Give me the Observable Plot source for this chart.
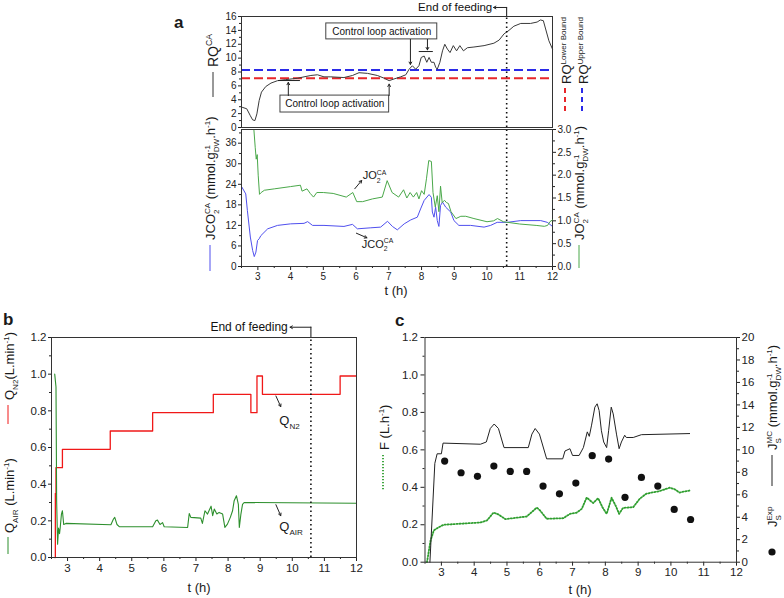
<!DOCTYPE html>
<html><head><meta charset="utf-8">
<script src="https://cdn.jsdelivr.net/npm/d3@7"></script>
<script src="https://cdn.jsdelivr.net/npm/@observablehq/plot@0.6"></script>
<style>
html,body{margin:0;padding:0;background:#fff;}
#root{position:relative;width:784px;height:598px;overflow:hidden;}
</style></head><body><div id="root"></div>
<script>
// ---------------- DATA ----------------
// Panel a (top): RQ^CA [t(h), RQ]
const rqCA = [[2.53,2.9],[2.66,2.7],[2.77,1.7],[2.84,1.1],[2.91,1.0],[2.97,1.96],[3.04,3.9],[3.11,5.1],[3.24,5.9],[3.4,6.4],[3.6,6.75],[3.85,6.9],[4.21,7.1],[4.41,7.3],[4.62,7.5],[4.82,7.6],[5.02,7.3],[5.23,7.3],[5.63,7.2],[5.89,7.5],[6.09,7.9],[6.35,7.8],[6.65,7.5],[6.86,7.1],[7.01,6.75],[7.16,7.0],[7.36,7.3],[7.52,7.6],[7.62,8.4],[7.72,8.9],[7.82,8.4],[7.92,8.9],[7.99,10.1],[8.08,10.3],[8.16,9.4],[8.23,10.1],[8.3,9.4],[8.38,9.4],[8.43,8.7],[8.48,8.4],[8.56,9.4],[8.64,11.05],[8.71,12.0],[8.79,11.3],[8.87,10.8],[8.97,11.8],[9.07,11.05],[9.17,11.8],[9.28,11.05],[9.4,11.5],[9.6,11.6],[9.91,11.8],[10.21,12.15],[10.37,12.6],[10.52,13.5],[10.67,14.0],[10.82,14.6],[11.03,15.0],[11.33,15.0],[11.53,15.2],[11.63,15.5],[11.72,15.4],[11.79,14.2],[11.89,12.5],[12.0,11.3]];
const rqBounds = [{name:"Lower Bound", v:7.1, color:"#e8262a"},{name:"Upper Bound", v:8.3, color:"#2a2ae8"}];
// Panel a (bottom): JCO2^CA (left axis) and JO2^CA (right axis)
const jco2 = [[2.51,23.2],[2.63,21.2],[2.68,16.3],[2.77,8.6],[2.84,4.7],[2.89,2.9],[2.94,4.2],[2.99,7.6],[3.04,8.1],[3.09,9.0],[3.3,11.0],[3.6,12.0],[4.0,12.45],[4.41,12.6],[4.52,13.1],[4.67,12.0],[5.02,12.0],[5.63,11.7],[5.89,12.3],[6.04,11.0],[6.45,11.3],[6.75,11.5],[6.96,13.2],[7.11,11.7],[7.26,10.7],[7.47,12.45],[7.67,13.6],[7.87,14.4],[7.97,16.8],[8.08,19.3],[8.23,21.0],[8.3,20.2],[8.33,15.9],[8.38,14.4],[8.43,17.3],[8.48,13.4],[8.53,11.7],[8.58,17.8],[8.64,18.8],[8.74,17.3],[8.89,15.9],[8.99,13.4],[9.14,12.0],[9.5,12.0],[9.91,11.5],[10.11,12.0],[10.31,12.9],[10.62,12.9],[11.03,13.4],[11.64,13.4],[11.84,12.9],[12.0,11.7]];
const jo2 = [[2.88,2.98],[2.92,2.6],[2.95,2.35],[2.98,2.45],[3.01,2.0],[3.05,1.58],[3.1,1.62],[3.2,1.67],[3.5,1.7],[4.0,1.75],[4.3,1.78],[4.35,1.65],[4.5,1.70],[4.6,1.6],[4.7,1.52],[4.8,1.62],[5.0,1.62],[5.3,1.6],[5.7,1.52],[5.9,1.62],[6.02,1.42],[6.2,1.42],[6.5,1.48],[6.8,1.52],[6.95,1.88],[7.1,1.62],[7.3,1.52],[7.45,1.68],[7.55,1.5],[7.65,1.62],[7.75,1.52],[7.85,1.62],[7.92,1.48],[8.0,1.66],[8.08,1.58],[8.15,1.92],[8.22,2.32],[8.3,2.3],[8.35,1.62],[8.42,1.3],[8.48,1.55],[8.53,1.2],[8.58,1.76],[8.63,1.4],[8.7,1.45],[8.76,1.4],[8.82,1.38],[8.9,1.2],[9.05,1.05],[9.2,1.1],[9.35,1.1],[9.6,1.05],[10.0,0.98],[10.2,1.0],[10.32,1.05],[10.5,0.98],[11.0,0.93],[11.5,0.9],[11.75,0.88],[11.85,0.9],[11.92,0.98],[12.0,1.02]];
// Panel b: Q_N2 (step) and Q_AIR
const qN2 = [[2.6,0],[2.62,0.35],[2.64,0.49],[2.84,0.59],[4.33,0.69],[5.65,0.79],[7.54,0.89],[8.71,0.79],[8.90,0.99],[9.07,0.89],[11.49,0.99],[12.0,0.99]];
const qAIR = [[2.6,1.0],[2.64,0.93],[2.66,0.31],[2.69,0.073],[2.72,0.16],[2.75,0.13],[2.77,0.16],[2.81,0.237],[2.84,0.255],[2.88,0.18],[2.95,0.186],[4.35,0.179],[4.43,0.21],[4.47,0.219],[4.54,0.18],[4.61,0.168],[5.65,0.168],[5.75,0.2],[5.80,0.204],[5.88,0.18],[5.96,0.19],[6.01,0.168],[6.74,0.164],[6.79,0.24],[6.84,0.219],[7.15,0.215],[7.2,0.186],[7.28,0.255],[7.36,0.237],[7.47,0.28],[7.52,0.228],[7.57,0.264],[7.65,0.237],[7.72,0.246],[7.83,0.237],[7.9,0.164],[7.98,0.182],[8.07,0.219],[8.14,0.255],[8.19,0.31],[8.26,0.337],[8.32,0.29],[8.35,0.164],[8.4,0.237],[8.45,0.29],[8.5,0.30],[12.0,0.296]];
// Panel c: feed F (left), Js^MC (right), Js^Exp points (right)
const feedF = [[2.56,0],[2.67,0.116],[2.77,0.17],[2.92,0.187],[3.07,0.2],[4.19,0.212],[4.39,0.223],[4.59,0.265],[4.74,0.255],[4.95,0.23],[5.6,0.244],[5.81,0.276],[5.91,0.292],[6.01,0.276],[6.21,0.232],[6.72,0.235],[6.92,0.258],[7.12,0.264],[7.28,0.285],[7.43,0.345],[7.63,0.316],[7.78,0.342],[7.91,0.294],[8.04,0.258],[8.19,0.344],[8.32,0.3],[8.42,0.258],[8.54,0.29],[8.85,0.294],[9.05,0.339],[9.25,0.366],[9.66,0.38],[9.96,0.398],[10.11,0.39],[10.26,0.372],[10.57,0.383]];
const jsMC = [[2.65,0],[2.80,8.8],[2.87,9.65],[3.0,9.65],[3.05,10.6],[4.19,10.5],[4.37,10.7],[4.49,11.9],[4.61,12.3],[4.74,11.9],[4.91,10.2],[5.65,10.2],[5.76,11.4],[5.86,11.9],[5.99,11.4],[6.21,9.2],[6.70,9.2],[6.77,9.9],[6.92,10.1],[7.0,9.5],[7.2,9.5],[7.33,10.2],[7.45,11.6],[7.51,11.2],[7.58,12.2],[7.68,13.8],[7.75,14.1],[7.81,13.5],[7.88,11.7],[7.95,10.7],[8.04,10.2],[8.10,11.7],[8.18,13.8],[8.24,13.2],[8.34,11.4],[8.42,10.1],[8.49,10.7],[8.59,11.3],[8.64,11.1],[8.85,11.1],[9.10,11.35],[10.57,11.45]];
const jsExpT = [3.1,3.6,4.1,4.6,5.1,5.6,6.1,6.6,7.1,7.6,8.1,8.6,9.1,9.6,10.1,10.6];
const jsExpV = [9.0,7.96,7.64,8.56,8.08,8.08,6.78,6.09,7.04,9.48,9.18,5.77,7.55,6.78,4.70,3.80];
const endOfFeeding = 10.6;
// Tick values
const xTicks = [3,4,5,6,7,8,9,10,11,12];
const xMinor = [2.5,3.5,4.5,5.5,6.5,7.5,8.5,9.5,10.5,11.5];
const rqTicks = [0,2,4,6,8,10,12,14,16];
const rqMinor = [1,3,5,7,9,11,13,15];
const jcoTicks = [0,6,12,18,24,30,36];
const jcoMinor = [3,9,15,21,27,33,39];
const joTicks = [0,0.5,1.0,1.5,2.0,2.5,3.0];
const joMinor = [0.25,0.75,1.25,1.75,2.25,2.75];
const qTicks = [0,0.2,0.4,0.6,0.8,1.0,1.2];
const qMinor = [0.1,0.3,0.5,0.7,0.9,1.1];
const jsTicks = [0,2,4,6,8,10,12,14,16,18,20];
const jsMinor = [1,3,5,7,9,11,13,15,17,19];
// Annotations (data units)
const boxesA = [{x1:5.09,x2:8.48,y1:12.7,y2:15.0,label:"Control loop activation"},{x1:3.69,x2:7.01,y1:2.16,y2:4.6,label:"Control loop activation"}];
const arrowsA = [{x1:3.93,y1:4.6,x2:3.93,y2:6.5,dash:"none"},{x1:7.01,y1:4.6,x2:7.01,y2:6.25,dash:"2,2"},{x1:7.66,y1:12.7,x2:7.66,y2:9.1,dash:"2,2"},{x1:8.18,y1:12.7,x2:8.18,y2:11.2,dash:"none"},{x1:10.6,y1:17.3,x2:10.2,y2:17.3,dash:"none"}];
const bracketsA = [{x1:3.63,x2:4.3,y:6.77},{x1:7.93,x2:8.36,y:10.95}];
const arrowsA2 = [{x1:5.96,y1:22.7,x2:6.17,y2:25.1},{x1:6.01,y1:9.72,x2:6.33,y2:8.38}];
const labelsA2 = [{t:6.22,v:25.3,label:"JO_{2}^{CA}"},{t:6.19,v:5.26,label:"JCO_{2}^{CA}"}];
const arrowsB = [{x1:9.49,y1:0.881,x2:9.64,y2:0.823},{x1:9.49,y1:0.288,x2:9.64,y2:0.228},{x1:10.58,y1:1.256,x2:9.93,y2:1.256}];
const labelsB = [{t:9.61,v:0.719,label:"Q_{N2}"},{t:9.61,v:0.140,label:"Q_{AIR}"}];

// ---------------- HELPERS ----------------
const W=784, H=598, FONT='"Liberation Sans", Arial, Helvetica, sans-serif';
const root = document.getElementById("root");
const P = a => ({t:a[0], v:a[1]});
function opts(l,r,t,b,fs){return {width:W,height:H,marginLeft:l,marginRight:W-r,marginTop:t,marginBottom:H-b,
  style:{background:"transparent",fontFamily:FONT,fontSize:fs,color:"#222",overflow:"visible"}};}
function add(p){p.style.position="absolute";p.style.left="0px";p.style.top="0px";root.appendChild(p);return p;}
function axY(ticks, minor, o={}){return [Plot.axisY(ticks,{tickSize:4,tickPadding:2,label:null,...o}),
  Plot.axisY(minor,{tickSize:2,fill:"none",label:null,anchor:o.anchor})];}
function axX(o={}){return [Plot.axisX(xTicks,{tickSize:4,tickPadding:2,label:null,...o}),
  Plot.axisX(xMinor,{tickSize:2,fill:"none",label:null})];}
const lineOf = (arr, o) => Plot.line(arr.map(P), {x:"t", y:"v", ...o});

// ---------------- PANEL a (top) ----------------
add(Plot.plot({...opts(241,552,16,127,"10px"),
  x:{domain:[2.5,12],axis:null}, y:{domain:[0,16],axis:null},
  marks:[
    Plot.ruleY(rqBounds,{y:"v",stroke:"color",strokeWidth:2,strokeDasharray:"9,4"}),
    lineOf(rqCA,{stroke:"#3a3a3a",strokeWidth:1}),
    Plot.ruleX([{t:endOfFeeding,a:0,b:16}],{x:"t",y1:"a",y2:"b",stroke:"#111",strokeWidth:1.6,strokeDasharray:"1.5,3"}),
    Plot.ruleX([{t:endOfFeeding,a:16,b:17.3}],{x:"t",y1:"a",y2:"b",stroke:"#111",strokeWidth:1}),
    Plot.rect(boxesA,{x1:"x1",x2:"x2",y1:"y1",y2:"y2",fill:"white",stroke:"#444",strokeWidth:1}),
    Plot.text(boxesA,{x:d=>(d.x1+d.x2)/2,y:d=>(d.y1+d.y2)/2,text:"label",fontSize:10,fill:"#111"}),
    Plot.arrow(arrowsA,{x1:"x1",y1:"y1",x2:"x2",y2:"y2",strokeDasharray:"dash",headLength:4,stroke:"#222",strokeWidth:1}),
    Plot.ruleY(bracketsA,{y:"y",x1:"x1",x2:"x2",stroke:"#222",strokeWidth:1}),
    Plot.text([{t:10.16,v:17.3,s:"End of feeding"}],{x:"t",y:"v",text:"s",textAnchor:"end",fontSize:11.5,fill:"#111"}),
    ...axY(rqTicks, rqMinor, {tickSize:3}),
    Plot.frame({stroke:"#333"})
  ]}));

// ---------------- PANEL a (bottom) ----------------
const pA2 = add(Plot.plot({...opts(241,552,129,266,"10px"),
  x:{domain:[2.5,12],axis:null}, y:{domain:[0,40],axis:null},
  marks:[
    lineOf(jco2,{stroke:"#4f4fee",strokeWidth:1}),
    Plot.ruleX([{t:endOfFeeding,a:0,b:40}],{x:"t",y1:"a",y2:"b",stroke:"#111",strokeWidth:1.6,strokeDasharray:"1.5,3"}),
    Plot.arrow(arrowsA2,{x1:"x1",y1:"y1",x2:"x2",y2:"y2",headLength:4,stroke:"#222",strokeWidth:1}),
    ...axY(jcoTicks, jcoMinor, {tickSize:3}),
    ...axX({tickSize:4}),
    Plot.frame({stroke:"#333"})
  ]}));
add(Plot.plot({...opts(241,552,129,266,"10px"),
  x:{domain:[2.5,12],axis:null}, y:{domain:[0,3],axis:null},
  marks:[
    lineOf(jo2,{stroke:"#4aa84a",strokeWidth:1}),
    ...axY(joTicks, joMinor, {anchor:"right",tickSize:3,tickPadding:2,tickFormat:d=>d.toFixed(1)})
  ]}));

// ---------------- PANEL b ----------------
const pB = add(Plot.plot({...opts(51,356,337,557,"11.5px"),
  x:{domain:[2.5,12],axis:null}, y:{domain:[0,1.2],axis:null},
  marks:[
    lineOf(qN2,{stroke:"#f01818",strokeWidth:1.3,curve:"step-after"}),
    lineOf(qAIR,{stroke:"#2d8f2d",strokeWidth:1.1}),
    Plot.ruleX([{t:10.58,a:0,b:1.2}],{x:"t",y1:"a",y2:"b",stroke:"#111",strokeWidth:1.6,strokeDasharray:"1.5,3"}),
    Plot.ruleX([{t:10.58,a:1.2,b:1.256}],{x:"t",y1:"a",y2:"b",stroke:"#111",strokeWidth:1}),
    Plot.arrow(arrowsB,{x1:"x1",y1:"y1",x2:"x2",y2:"y2",headLength:4,stroke:"#222",strokeWidth:1}),
    Plot.text([{t:9.86,v:1.256,s:"End of feeding"}],{x:"t",y:"v",text:"s",textAnchor:"end",fontSize:12,fill:"#111"}),
    ...axY(qTicks, qMinor, {tickSize:3,tickPadding:2,tickFormat:d=>d.toFixed(1)}),
    ...axX({tickSize:4}),
    Plot.frame({stroke:"#333"})
  ]}));

// ---------------- PANEL c ----------------
add(Plot.plot({...opts(424.5,736,337,561.7,"11.5px"),
  x:{domain:[2.5,12],axis:null}, y:{domain:[0,1.2],axis:null},
  marks:[
    lineOf(feedF,{stroke:"#2f9e2f",strokeWidth:1.8,strokeDasharray:"1.2,1.8"}),
    ...axY(qTicks, qMinor, {tickSize:4,tickPadding:3,tickFormat:d=>d.toFixed(1)}),
    ...axX({tickSize:4}),
    Plot.frame({stroke:"#333"})
  ]}));
add(Plot.plot({...opts(424.5,736,337,561.7,"11.5px"),
  x:{domain:[2.5,12],axis:null}, y:{domain:[0,20],axis:null},
  marks:[
    lineOf(jsMC,{stroke:"#222",strokeWidth:1}),
    Plot.dot(jsExpT.map((t,i)=>({t, v:jsExpV[i]})),{x:"t",y:"v",r:3.6,fill:"#111",stroke:"none"}),
    ...axY(jsTicks, jsMinor, {anchor:"right",tickSize:3,tickPadding:2})
  ]}));

// ---------------- TEXT OVERLAY ----------------
const ov = d3.select(root).append("svg").attr("width",W).attr("height",H)
  .style("position","absolute").style("left","0px").style("top","0px")
  .attr("font-family",FONT).attr("fill","#1a1a1a");
function rich(g, str, size){
  const text = g.append("text").attr("font-size", size);
  const toks = str.split(/(\^\{[^}]*\}|_\{[^}]*\})/).filter(s=>s!=="");
  let shift=0, prevType=null, prevW=0, pending=0;
  for (const tok of toks){
    let type=null, target=0, s=size, content=tok;
    if (tok.startsWith("^{")){type="sup";target=-0.42*size;s=0.62*size;content=tok.slice(2,-1);}
    else if (tok.startsWith("_{")){type="sub";target=0.3*size;s=0.62*size;content=tok.slice(2,-1);}
    const ts = text.append("tspan").attr("font-size",s).attr("dy",target-shift).text(content);
    let dx = 0;
    if (type && prevType && prevType!==type){ dx = -prevW; }
    else if (pending){ dx = pending; }
    if (dx) ts.attr("dx", dx);
    const w = ts.node().getComputedTextLength();
    if (type && prevType && prevType!==type){ pending = Math.max(0, prevW - w); prevType = null; prevW = 0; }
    else { pending = 0; prevType = type; prevW = type ? w : 0; }
    shift = target;
  }
  return text;
}
function rot(x,y,str,size,anchor="start"){
  const g = ov.append("g").attr("transform",`translate(${x},${y}) rotate(-90)`);
  return rich(g,str,size).attr("text-anchor",anchor);
}
function seg(x,y1,y2,color,w=1,dash=null){
  const l = ov.append("line").attr("x1",x).attr("x2",x).attr("y1",y1).attr("y2",y2).attr("stroke",color).attr("stroke-width",w);
  if (dash) l.attr("stroke-dasharray",dash);
}
// panel letters
ov.append("text").attr("x",174).attr("y",28).attr("font-size",17).attr("font-weight","bold").text("a");
ov.append("text").attr("x",3).attr("y",325).attr("font-size",17).attr("font-weight","bold").text("b");
ov.append("text").attr("x",395).attr("y",326).attr("font-size",17).attr("font-weight","bold").text("c");
// x labels
[[396,295],[199,592],[580,594]].forEach(([x,y])=>ov.append("text").attr("x",x).attr("y",y).attr("font-size",13).attr("text-anchor","middle").text("t (h)"));
// panel a axis titles
rot(218,67,"RQ^{CA}",14); seg(213,72,97,"#333");
rot(571,84,"RQ^{"+rqBounds[0].name+"}",13); seg(565,88,113,rqBounds[0].color,2,"5,4");
rot(588,84,"RQ^{"+rqBounds[1].name+"}",13); seg(582,88,113,rqBounds[1].color,2,"5,4");
rot(215,240,"JCO_{2}^{CA} (mmol.g^{-1}_{DW}.h^{-1})",13); seg(210,245,271,"#4f4fee");
rot(584,240,"JO_{2}^{CA} (mmol.g^{-1}_{DW}.h^{-1})",13); seg(579,245,268,"#4aa84a");
// panel b axis titles
rot(14,400,"Q_{N2}(L.min^{-1})",13); seg(8,405,424,"#f01818");
rot(14,533,"Q_{AIR} (L.min^{-1})",13); seg(8,537,554,"#2d8f2d");
// panel c axis titles
rot(389,450,"F (L.h^{-1})",13); seg(383,455,491,"#2f9e2f",1.8,"1.2,1.8");
rot(777,450,"J_{S}^{MC} (mmol.g_{DW}^{-1}.h^{-1})",13); seg(772,455,486,"#222");
rot(777,527,"J_{S}^{Exp}",13);
ov.append("circle").attr("cx",772).attr("cy",552).attr("r",3.6).attr("fill","#111");
// in-plot labels positioned through the plots' own scales
const xa = pA2.scale("x"), ya = pA2.scale("y");
labelsA2.forEach(d=>{ const g = ov.append("g").attr("transform",`translate(${xa.apply(d.t)},${ya.apply(d.v)})`); rich(g,d.label,11); });
const xb = pB.scale("x"), yb = pB.scale("y");
labelsB.forEach(d=>{ const g = ov.append("g").attr("transform",`translate(${xb.apply(d.t)},${yb.apply(d.v)})`); rich(g,d.label,13); });
</script></body></html>
